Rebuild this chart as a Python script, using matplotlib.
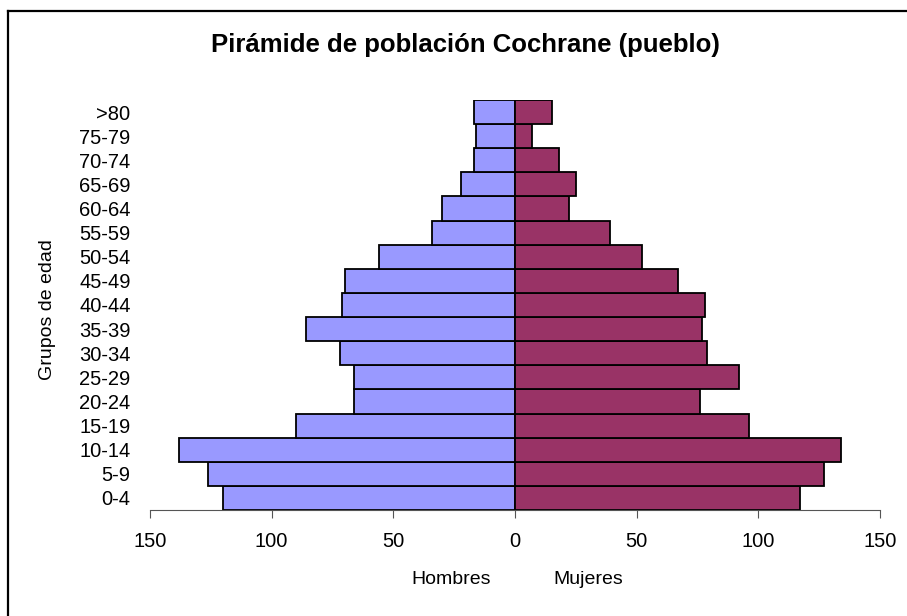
import numpy as np
import matplotlib
matplotlib.use('Agg')
from matplotlib import pyplot as plt
from matplotlib.lines import Line2D

plt.rcParams['font.family'] = ['Liberation Sans', 'DejaVu Sans']

grupos = ['0-4', '5-9', '10-14', '15-19', '20-24', '25-29', '30-34', '35-39',
          '40-44', '45-49', '50-54', '55-59', '60-64', '65-69', '70-74',
          '75-79', '>80']
hombres = [120, 126, 138, 90, 66, 66, 72, 86, 71, 70, 56, 34, 30, 22, 17, 16, 17]
mujeres = [117, 127, 134, 96, 76, 92, 79, 77, 78, 67, 52, 39, 22, 25, 18, 7, 15]
ticks = [-150, -100, -50, 0, 50, 100, 150]

fig = plt.figure(figsize=(9.07, 6.16), dpi=100)
# marco del grafico: solo se ve arriba y a la izquierda
x0, y0 = 8 / 907, 1 - 11 / 616
fig.add_artist(Line2D([x0, 1], [y0, y0], transform=fig.transFigure,
                      color='black', lw=1.6))
fig.add_artist(Line2D([x0, x0], [0, y0], transform=fig.transFigure,
                      color='black', lw=1.6))

ax = fig.add_axes([150 / 907, 106 / 616, 730 / 907, 410 / 616])

y = np.arange(len(grupos))
ax.barh(y, -np.array(hombres), height=1.0, color='#9999FF',
        edgecolor='black', lw=1.3)
ax.barh(y, mujeres, height=1.0, color='#993366', edgecolor='black', lw=1.3)

ax.set_xlim(-150, 150)
ax.set_ylim(-0.5, len(grupos) - 0.5)
ax.set_xticks(ticks)
ax.set_xticklabels([str(abs(t)) for t in ticks], fontsize=14.5)
ax.set_yticks(y)
ax.set_yticklabels(grupos, fontsize=14.5)
ax.tick_params(axis='y', length=0, pad=14)
ax.tick_params(axis='x', length=6, color='#555555', pad=10)
for s in ['top', 'left', 'right']:
    ax.spines[s].set_visible(False)
ax.spines['bottom'].set_color('#555555')

fig.text(47 / 907, 1 - 310 / 616, 'Grupos de edad', rotation=90,
         ha='center', va='center', fontsize=14)
fig.text(451 / 907, 1 - 580 / 616, 'Hombres', ha='center', va='center',
         fontsize=14)
fig.text(588 / 907, 1 - 580 / 616, 'Mujeres', ha='center', va='center',
         fontsize=14)
fig.text(465 / 907, 1 - 45 / 616, 'Pirámide de población Cochrane (pueblo)',
         ha='center', va='center', fontsize=18.5, fontweight='bold')

fig.savefig('out.png', dpi=100)
